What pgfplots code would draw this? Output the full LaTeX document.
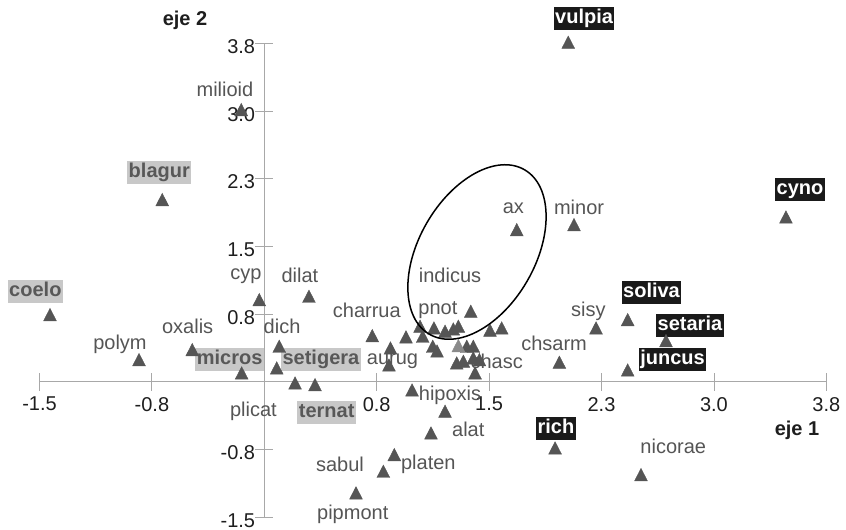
\documentclass[border=0pt]{standalone}
\usepackage{pgfplots}
\pgfplotsset{compat=1.18}
\usepackage{fontspec}
\setmainfont{Liberation Sans}
\definecolor{tri}{HTML}{555555}
\definecolor{trilight}{HTML}{8A8A8A}
\definecolor{labc}{HTML}{555555}
\definecolor{axc}{HTML}{A8A8A8}
\definecolor{tickc}{HTML}{1E1E1E}
\definecolor{boxg}{HTML}{C8C8C8}
\definecolor{boxgt}{HTML}{585858}
\definecolor{boxb}{HTML}{1A1A1A}
\begin{document}
\begin{tikzpicture}[
  lab/.style={text=labc, font=\fontsize{20}{24}\selectfont, inner sep=0pt},
  gbox/.style={fill=boxg, text=boxgt, font=\fontsize{20}{24}\selectfont\bfseries, inner xsep=1.5pt, inner ysep=2pt, text height=14.5pt, text depth=4.5pt},
  bbox/.style={fill=boxb, text=white, font=\fontsize{20}{24}\selectfont\bfseries, inner xsep=1.5pt, inner ysep=2pt, text height=14.5pt, text depth=4.5pt},
  axlab/.style={text=tickc, font=\fontsize{20}{24}\selectfont\bfseries, inner sep=0pt}
]
\path[use as bounding box] (0,0) rectangle (846pt,530pt);
\begin{axis}[
  at={(264.3pt,148pt)}, anchor=origin,
  x=147.9pt, y=89.1pt,
  xmin=-1.52, xmax=3.8, ymin=-1.52, ymax=3.8,
  axis lines=center,
  axis line style={draw=axc, line width=1pt, -},
  xtick={-1.52,-0.76,0.76,1.52,2.28,3.04,3.8},
  xticklabels={-1.5,-0.8,0.8,1.5,2.3,3.0,3.8},
  ytick={-1.52,-0.76,0.76,1.52,2.28,3.04,3.8},
  yticklabels={-1.5,-0.8,0.8,1.5,2.3,3.0,3.8},
  tick align=center, major tick length=18pt,
  tick style={draw=axc, line width=0.8pt},
  ticklabel style={font=\fontsize{20}{24}\selectfont, text=tickc, inner sep=0pt},
  xticklabel style={anchor=north, yshift=-6pt},
  yticklabel style={anchor=east, yshift=-3pt},
  clip=false,
]
\addplot[only marks, mark=triangle*, mark size=7.4pt, mark options={draw=tri, fill=tri, yscale=1.12}] table {
x y
-0.156 3.034
-0.690 2.024
2.055 3.790
1.707 1.687
2.094 1.743
3.527 1.829
2.457 0.677
2.243 0.584
2.716 0.441
2.457 0.112
1.995 0.199
0.302 0.939
-0.034 0.901
-1.449 0.733
-0.847 0.228
-0.487 0.340
-0.153 0.079
0.101 0.378
0.084 0.135
0.208 -0.034
0.343 -0.053
0.730 0.497
0.853 0.359
0.843 0.168
0.958 0.483
1.053 0.603
1.071 0.490
1.147 0.584
1.139 0.378
1.168 0.325
1.222 0.547
1.278 0.572
1.312 0.603
1.396 0.771
1.526 0.558
1.605 0.584
1.369 0.378
1.413 0.378
1.301 0.191
1.346 0.210
1.413 0.247
1.454 0.228
1.425 0.079
0.999 -0.112
1.222 -0.351
1.127 -0.595
0.879 -0.838
0.805 -1.025
0.620 -1.268
1.966 -0.763
2.547 -1.063
};
\addplot[only marks, mark=triangle*, mark size=7.4pt, mark options={draw=trilight, fill=trilight, yscale=1.12}] table {
x y
1.312 0.385
};
\coordinate (ec) at (axis cs:1.438,1.459);
% plain labels
\node[lab] at (axis cs:-0.266,3.288) {milioid};
\node[lab] at (axis cs:1.256,1.193) {indicus};
\node[lab] at (axis cs:1.684,1.949) {ax};
\node[lab] at (axis cs:2.128,1.964) {minor};
\node[lab] at (axis cs:2.191,0.797) {sisy};
\node[lab] at (axis cs:1.959,0.434) {chsarm};
\node[lab] at (axis cs:0.241,1.201) {dilat};
\node[lab] at (axis cs:-0.124,1.190) {cyp};
\node[lab] at (axis cs:-0.976,0.423) {polym};
\node[lab] at (axis cs:-0.518,0.621) {oxalis};
\node[lab] at (axis cs:0.120,0.621) {dich};
\node[lab] at (axis cs:-0.074,-0.333) {plicat};
\node[lab] at (axis cs:0.693,0.808) {charrua};
\node[lab] at (axis cs:1.174,0.808) {pnot};
\node[lab] at (axis cs:0.867,0.228) {aurug};
\node[lab] at (axis cs:1.571,0.228) {chasc};
\node[lab] at (axis cs:1.256,-0.146) {hipoxis};
\node[lab] at (axis cs:1.379,-0.531) {alat};
\node[lab] at (axis cs:1.109,-0.920) {platen};
\node[lab] at (axis cs:0.512,-0.920) {sabul};
\node[lab] at (axis cs:0.598,-1.481) {pipmont};
\node[lab] at (axis cs:2.765,-0.726) {nicorae};
% grey boxed labels
\node[gbox] at (axis cs:-0.710,2.354) {blagur};
\node[gbox] at (axis cs:-1.548,1.013) {coelo};
\node[gbox] at (axis cs:-0.234,0.247) {micros};
\node[gbox] at (axis cs:0.383,0.247) {setigera};
\node[gbox] at (axis cs:0.422,-0.342) {ternat};
% black boxed labels
\node[bbox] at (axis cs:2.162,4.074) {vulpia};
\node[bbox] at (axis cs:3.622,2.166) {cyno};
\node[bbox] at (axis cs:2.618,1.010) {soliva};
\node[bbox] at (axis cs:2.878,0.629) {setaria};
\node[bbox] at (axis cs:2.760,0.247) {juncus};
\node[bbox] at (axis cs:1.972,-0.524) {rich};
% axis titles
\node[axlab] at (axis cs:3.602,-0.539) {eje 1};
\node[axlab] at (axis cs:-0.536,4.063) {eje 2};
\end{axis}
\draw[line width=1.5pt, rotate around={60:(ec)}] (ec) ellipse [x radius=95pt, y radius=58pt];
\end{tikzpicture}
\end{document}
